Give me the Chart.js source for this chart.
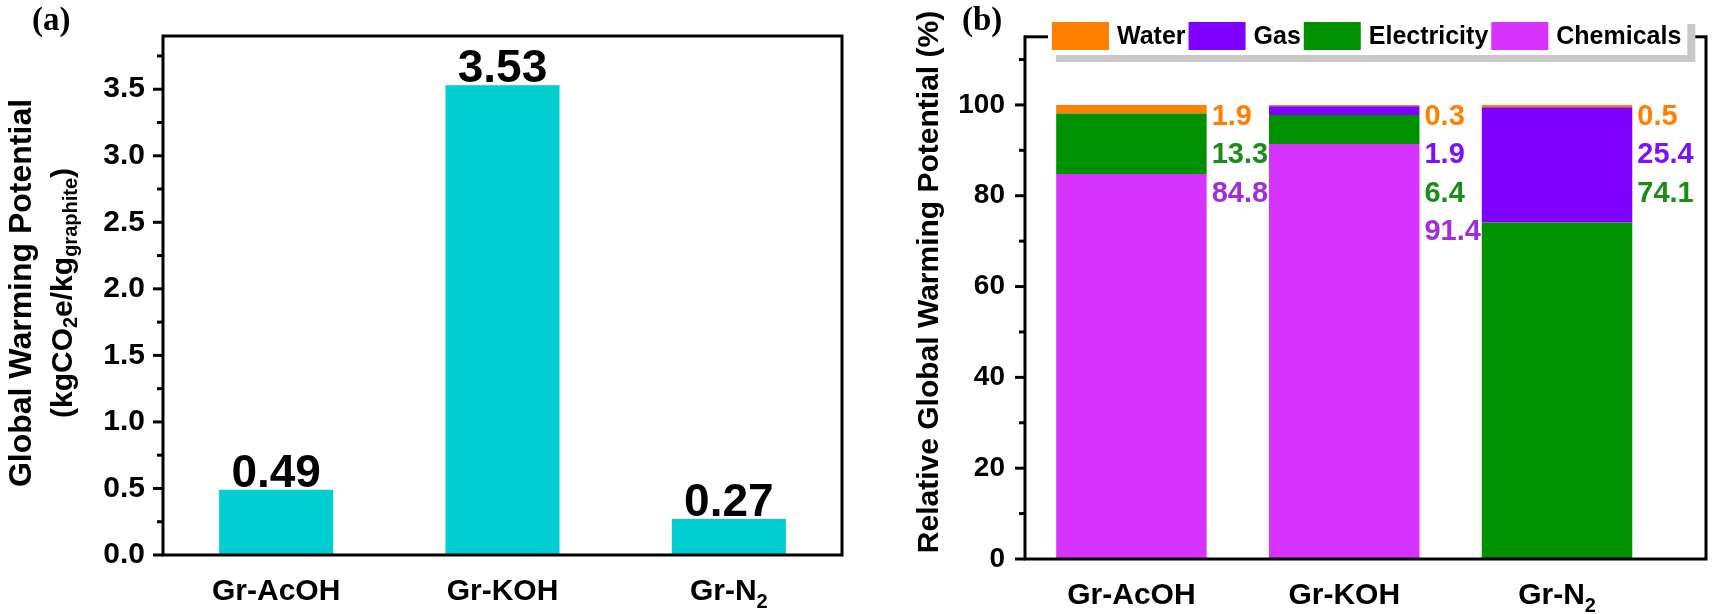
<!DOCTYPE html>
<html>
<head>
<meta charset="utf-8">
<script src="https://cdn.jsdelivr.net/npm/chart.js@4.4.0/dist/chart.umd.min.js"></script>
<style>
  html, body { margin: 0; padding: 0; background: #fff; }
  #wrapA { position: absolute; left: 0; top: 0; width: 860px; height: 614px; }
  #wrapB { position: absolute; left: 860px; top: 0; width: 853px; height: 614px; }
</style>
</head>
<body>
<div id="wrapA"><canvas id="chartA"></canvas></div>
<div id="wrapB"><canvas id="chartB"></canvas></div>
<script>
// kategori sampel
var kategori = ['Gr-AcOH', 'Gr-KOH', 'Gr-N₂'];

// (a) total GWP, kgCO2e per kg grafit
var gwpTotal = [0.49, 3.53, 0.27];
var tickA = [0, 0.5, 1.0, 1.5, 2.0, 2.5, 3.0, 3.5];
var minorA = [0.25, 0.75, 1.25, 1.75, 2.25, 2.75, 3.25, 3.75];

// (b) kontribusi relatif (%)
var water = [1.9, 0.3, 0.5];
var gas = [0, 1.9, 25.4];
var electricity = [13.3, 6.4, 74.1];
var chemicals = [84.8, 91.4, 0];
var tickB = [0, 20, 40, 60, 80, 100];
var minorB = [10, 30, 50, 70, 90, 110];

var FONT = "'Liberation Sans', Arial, Helvetica, sans-serif";
var SERIF = "'Liberation Serif', 'Times New Roman', serif";

// frame + ticks keluar
function drawFrame(chart, major, minor) {
  var a = chart.chartArea, c = chart.ctx, ys = chart.scales.y;
  c.save();
  c.strokeStyle = '#000';
  c.lineWidth = 3;
  c.strokeRect(a.left, a.top, a.right - a.left, a.bottom - a.top);
  major.forEach(function (v) {
    var p = ys.getPixelForValue(v);
    c.beginPath(); c.moveTo(a.left - 10, p); c.lineTo(a.left, p); c.stroke();
  });
  minor.forEach(function (v) {
    var p = ys.getPixelForValue(v);
    c.beginPath(); c.moveTo(a.left - 6, p); c.lineTo(a.left, p); c.stroke();
  });
  c.restore();
}

// teks dengan subscript, mendatar atau tegak
function drawRich(c, parts, x, y, size, rotate) {
  c.save();
  c.translate(x, y);
  if (rotate) c.rotate(-Math.PI / 2);
  c.textBaseline = rotate ? 'middle' : 'alphabetic';
  c.textAlign = 'left';
  c.fillStyle = '#000';
  var total = 0;
  parts.forEach(function (p) {
    c.font = 'bold ' + (p.sub ? Math.round(size * 0.68) : size) + 'px ' + FONT;
    p.w = c.measureText(p.t).width;
    total += p.w;
  });
  var cx = -total / 2;
  parts.forEach(function (p) {
    c.font = 'bold ' + (p.sub ? Math.round(size * 0.68) : size) + 'px ' + FONT;
    c.fillText(p.t, cx, p.sub ? size * 0.26 : 0);
    cx += p.w;
  });
  c.restore();
}

// label kategori: '₂' jadi subscript
function catParts(label) {
  var s = label.split('₂');
  var parts = [{ t: s[0] }];
  if (s.length > 1) parts.push({ t: '2', sub: true });
  return parts;
}

function drawCategories(chart) {
  var xs = chart.scales.x, yb = chart.chartArea.bottom + 45;
  kategori.forEach(function (lab, i) {
    drawRich(chart.ctx, catParts(lab), xs.getPixelForValue(i), yb, 30, false);
  });
}

var panelA = {
  id: 'panelA',
  afterDraw: function (chart) {
    var c = chart.ctx;
    drawFrame(chart, tickA, minorA);
    drawCategories(chart);
    // label nilai di atas batang
    var meta = chart.getDatasetMeta(0);
    c.save();
    c.fillStyle = '#000';
    c.font = 'bold 46px ' + FONT;
    c.textAlign = 'center';
    c.textBaseline = 'alphabetic';
    meta.data.forEach(function (bar, i) {
      c.fillText(gwpTotal[i].toFixed(2), bar.x, bar.y - 3);
    });
    c.font = 'bold 33px ' + SERIF;
    c.textAlign = 'left';
    c.textBaseline = 'top';
    c.fillText('(a)', 32, 5);
    c.restore();
    drawRich(c, [{ t: 'Global Warming Potential' }], 22, 293, 32, true);
    drawRich(c, [{ t: '(kgCO' }, { t: '2', sub: true }, { t: 'e/kg' },
      { t: 'graphite', sub: true }, { t: ')' }], 64, 293, 30, true);
  }
};

var panelB = {
  id: 'panelB',
  afterDraw: function (chart) {
    var c = chart.ctx, ys = chart.scales.y;
    drawFrame(chart, tickB, minorB);
    drawCategories(chart);
    var sets = chart.data.datasets;
    // label persen di kanan batang
    var meta = chart.getDatasetMeta(0);
    var y0 = ys.getPixelForValue(100) + 12;
    c.save();
    c.font = 'bold 29px ' + FONT;
    c.textAlign = 'left';
    c.textBaseline = 'middle';
    meta.data.forEach(function (bar, i) {
      var row = 0;
      for (var k = sets.length - 1; k >= 0; k--) {
        var v = sets[k].data[i].y;
        if (!v) continue;
        c.fillStyle = sets[k].labelColor;
        c.fillText(v.toFixed(1), bar.x + bar.width / 2 + 5, y0 + row * 38.5);
        row++;
      }
    });
    // legenda dengan bayangan
    var lx = 192, ly = 22, bw = 57, bh = 28;
    c.font = 'bold 25px ' + FONT;
    var x = lx, items = [];
    for (var k = sets.length - 1; k >= 0; k--) {
      var tw = c.measureText(sets[k].label).width;
      items.push({ x: x, tx: x + bw + 8, ds: sets[k] });
      x += bw + 8 + tw + 3;
    }
    var right = x + 3;
    c.fillStyle = '#c8c8c8';
    c.fillRect(lx - 4 + 8, ly - 5 + 7, right - (lx - 4), bh + 10);
    c.fillStyle = '#fff';
    c.fillRect(lx - 4, ly - 5, right - (lx - 4), bh + 10);
    items.forEach(function (it) {
      c.fillStyle = it.ds.backgroundColor;
      c.fillRect(it.x, ly, bw, bh);
      c.fillStyle = '#000';
      c.fillText(it.ds.label, it.tx, ly + bh / 2 + 1);
    });
    c.font = 'bold 33px ' + SERIF;
    c.textBaseline = 'top';
    c.fillText('(b)', 102, 5);
    c.restore();
    drawRich(c, [{ t: 'Relative Global Warming Potential (%)' }], 70, 282, 30, true);
  }
};

var tickFontA = { family: FONT, size: 30, weight: 'bold' };
var tickFontB = { family: FONT, size: 28, weight: 'bold' };

new Chart(document.getElementById('chartA'), {
  type: 'bar',
  data: {
    labels: kategori,
    datasets: [{
      label: 'GWP',
      data: gwpTotal,
      backgroundColor: '#00CED1',
      barPercentage: 0.504,
      categoryPercentage: 1
    }]
  },
  options: {
    responsive: true,
    maintainAspectRatio: false,
    animation: false,
    layout: { padding: { top: 10, right: 18, left: 0, bottom: 0 } },
    plugins: { legend: { display: false }, tooltip: { enabled: false } },
    scales: {
      x: {
        grid: { display: false, drawTicks: false },
        border: { display: false },
        ticks: { display: false },
        afterFit: function (s) { s.height = 59; }
      },
      y: {
        min: 0,
        max: 3.9,
        grid: { display: false, drawTicks: false },
        border: { display: false },
        afterBuildTicks: function (s) { s.ticks = tickA.map(function (v) { return { value: v }; }); },
        ticks: {
          color: '#000', font: tickFontA, padding: 18,
          callback: function (v) { return v.toFixed(1); }
        },
        afterFit: function (s) { s.width = 163; }
      }
    }
  },
  plugins: [panelA]
});

function seri(arr) {
  return arr.map(function (v, i) { return { x: i, y: v }; });
}

new Chart(document.getElementById('chartB'), {
  type: 'bar',
  data: {
    datasets: [
      { label: 'Chemicals', data: seri(chemicals), backgroundColor: '#D633FF', labelColor: '#A22ED8' },
      { label: 'Electricity', data: seri(electricity), backgroundColor: '#009100', labelColor: '#1A8C1A' },
      { label: 'Gas', data: seri(gas), backgroundColor: '#7F00FF', labelColor: '#8010F8' },
      { label: 'Water', data: seri(water), backgroundColor: '#FF8000', labelColor: '#FF8000' }
    ]
  },
  options: {
    responsive: true,
    maintainAspectRatio: false,
    animation: false,
    datasets: { bar: { barPercentage: 0.707, categoryPercentage: 1 } },
    layout: { padding: { top: 10, right: 7, left: 0, bottom: 0 } },
    plugins: { legend: { display: false }, tooltip: { enabled: false } },
    scales: {
      x: {
        type: 'linear',
        min: -0.5,
        max: 2.7,
        offset: false,
        stacked: true,
        grid: { display: false, drawTicks: false },
        border: { display: false },
        // satu tick per kategori supaya lebar batang dihitung dari jaraknya
        afterBuildTicks: function (s) { s.ticks = kategori.map(function (c, i) { return { value: i }; }); },
        ticks: { display: false },
        afterFit: function (s) { s.height = 55; }
      },
      y: {
        min: 0,
        max: 115,
        stacked: true,
        grid: { display: false, drawTicks: false },
        border: { display: false },
        afterBuildTicks: function (s) { s.ticks = tickB.map(function (v) { return { value: v }; }); },
        ticks: { color: '#000', font: tickFontB, padding: 20 },
        afterFit: function (s) { s.width = 165; }
      }
    }
  },
  plugins: [panelB]
});
</script>
</body>
</html>
